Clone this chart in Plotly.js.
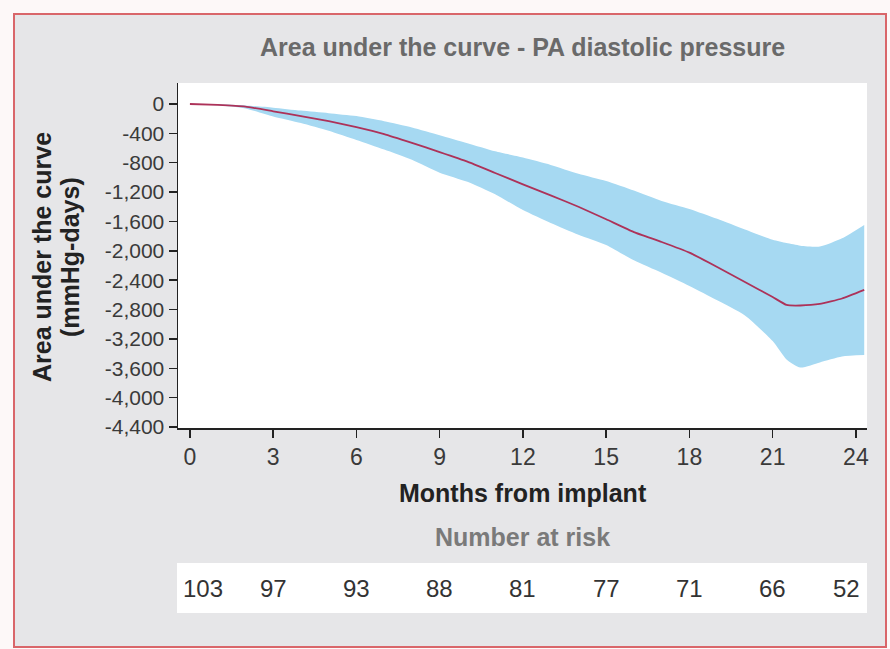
<!DOCTYPE html>
<html>
<head>
<meta charset="utf-8">
<script src="https://cdn.plot.ly/plotly-3.0.1.min.js"></script>
<style>html,body{margin:0;padding:0;background:#fdf8f8;}#chart{width:890px;height:649px;}</style>
</head>
<body>
<div id="chart"></div>
<script>
// ---- data ----
var months   = [0, 1, 2, 3, 4, 5, 6, 7, 8, 9, 10, 11, 12, 13, 14, 15, 16, 17, 18, 19, 20, 21, 21.5, 22, 22.7, 23.5, 24.3];
var meanAUC  = [0, -12, -35, -100, -165, -235, -315, -410, -530, -655, -785, -940, -1095, -1245, -1400, -1570, -1745, -1880, -2025, -2220, -2425, -2630, -2738, -2745, -2724, -2650, -2533];
var upperCI  = [0, -5, -20, -50, -90, -125, -165, -235, -320, -425, -535, -645, -730, -830, -950, -1050, -1180, -1320, -1430, -1565, -1710, -1850, -1895, -1930, -1943, -1830, -1648];
var lowerCI  = [0, -18, -60, -170, -260, -365, -490, -620, -760, -935, -1060, -1230, -1445, -1620, -1780, -1920, -2130, -2300, -2480, -2675, -2880, -3230, -3480, -3590, -3520, -3440, -3420];

var xTickVals = [0, 3, 6, 9, 12, 15, 18, 21, 24];
var yTickVals = [0, -400, -800, -1200, -1600, -2000, -2400, -2800, -3200, -3600, -4000, -4400];
var riskMonths = [0, 3, 6, 9, 12, 15, 18, 21, 24];
var riskCounts = [103, 97, 93, 88, 81, 77, 71, 66, 52];

var chartTitle = 'Area under the curve - PA diastolic pressure';
var xTitle = 'Months from implant';
var yTitle1 = 'Area under the curve';
var yTitle2 = '(mmHg-days)';
var riskTitle = 'Number at risk';

function fmt(v) {
  var s = Math.abs(v).toString().replace(/\B(?=(\d{3})+(?!\d))/g, ',');
  return (v < 0 ? '-' : '') + s;
}
var yTickText = yTickVals.map(fmt);

var FONT = 'Liberation Sans, Arial, Helvetica, sans-serif';

var traces = [
  {x: months, y: upperCI, mode: 'lines', line: {width: 0, shape: 'spline', smoothing: 0.6}, hoverinfo: 'skip', showlegend: false},
  {x: months, y: lowerCI, mode: 'lines', line: {width: 0, shape: 'spline', smoothing: 0.6}, fill: 'tonexty', fillcolor: '#a6d9f2', hoverinfo: 'skip', showlegend: false},
  {x: months, y: meanAUC, mode: 'lines', line: {color: '#ad3259', width: 1.8, shape: 'spline', smoothing: 0.4}, showlegend: false}
];

function py(p) { return (428 - p) / 345; }   // pixel row -> paper y
function px(p) { return (p - 178) / 689; }   // pixel col -> paper x

var annotations = [
  {text: '<b>' + chartTitle + '</b>', xref: 'paper', yref: 'paper', x: 0.5, y: py(47), xanchor: 'center', yanchor: 'middle', showarrow: false, font: {family: FONT, size: 25, color: '#6a6a6a'}},
  {text: '<b>' + xTitle + '</b>', xref: 'paper', yref: 'paper', x: 0.5, y: py(493), xanchor: 'center', yanchor: 'middle', showarrow: false, font: {family: FONT, size: 25, color: '#222'}},
  {text: '<b>' + riskTitle + '</b>', xref: 'paper', yref: 'paper', x: 0.5, y: py(537), xanchor: 'center', yanchor: 'middle', showarrow: false, font: {family: FONT, size: 25, color: '#7a7a7a'}},
  {text: '<b>' + yTitle1 + '</b>', xref: 'paper', yref: 'paper', x: px(42), y: py(257), xanchor: 'center', yanchor: 'middle', textangle: -90, showarrow: false, font: {family: FONT, size: 25, color: '#222'}},
  {text: '<b>' + yTitle2 + '</b>', xref: 'paper', yref: 'paper', x: px(70), y: py(257), xanchor: 'center', yanchor: 'middle', textangle: -90, showarrow: false, font: {family: FONT, size: 25, color: '#222'}}
];
riskCounts.forEach(function (n, i) {
  var a = {text: String(n), xref: 'x', yref: 'paper', x: riskMonths[i], y: py(588), xanchor: 'center', yanchor: 'middle', showarrow: false, font: {family: FONT, size: 24, color: '#333'}};
  if (i === 0) { a.xanchor = 'left'; a.xshift = -9; }
  if (i === riskCounts.length - 1) { a.xanchor = 'right'; a.xshift = 6; }
  annotations.push(a);
});

var shapes = [
  {type: 'rect', xref: 'paper', yref: 'paper', x0: px(14), x1: px(886), y0: py(647), y1: py(14), fillcolor: '#e6e6e8', line: {color: '#d9666a', width: 2}, layer: 'below'},
  {type: 'rect', xref: 'paper', yref: 'paper', x0: 0, x1: 1, y0: 0, y1: 1, fillcolor: '#ffffff', line: {width: 0}, layer: 'below'},
  {type: 'rect', xref: 'paper', yref: 'paper', x0: px(177), x1: 1, y0: py(613), y1: py(563), fillcolor: '#ffffff', line: {width: 0}, layer: 'below'}
];

var layout = {
  width: 890, height: 649,
  margin: {l: 178, r: 23, t: 83, b: 221},
  paper_bgcolor: '#fdf8f8',
  plot_bgcolor: '#ffffff',
  showlegend: false,
  xaxis: {
    range: [-0.43, 24.4], tickvals: xTickVals, ticktext: xTickVals.map(String),
    ticks: 'outside', ticklen: 8, tickwidth: 1.5, tickcolor: '#222',
    showline: true, linecolor: '#222', linewidth: 1.5, showgrid: false, zeroline: false,
    tickfont: {family: FONT, size: 23, color: '#3a3a3a'}, fixedrange: true
  },
  yaxis: {
    range: [-4414, 286], tickvals: yTickVals, ticktext: yTickText,
    ticks: 'outside', ticklen: 8, tickwidth: 1.5, tickcolor: '#222',
    showline: true, linecolor: '#222', linewidth: 1.5, showgrid: false, zeroline: false,
    tickfont: {family: FONT, size: 21, color: '#3a3a3a'}, fixedrange: true
  },
  annotations: annotations,
  shapes: shapes
};

Plotly.newPlot('chart', traces, layout, {staticPlot: true, displayModeBar: false});
</script>
</body>
</html>
